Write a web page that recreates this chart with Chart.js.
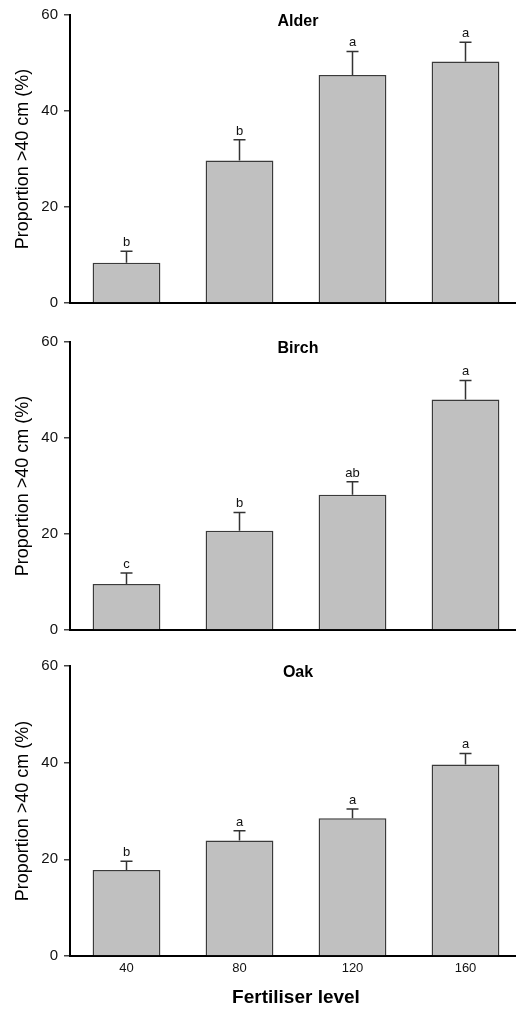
<!DOCTYPE html>
<html>
<head>
<meta charset="utf-8">
<script src="https://cdn.jsdelivr.net/npm/chart.js@4/dist/chart.umd.min.js"></script>
<style>
  html, body { margin: 0; padding: 0; background: #fff; overflow: hidden; }
  .panel { position: absolute; left: 0; width: 522px; }
</style>
</head>
<body>
<div class="panel" style="top:0px;height:318px"><canvas id="alder"></canvas></div>
<div class="panel" style="top:327px;height:318px"><canvas id="birch"></canvas></div>
<div class="panel" style="top:651px;height:358px"><canvas id="oak"></canvas></div>
<script>
// Fertiliser levels on the x axis
var levels = ["40", "80", "120", "160"];
var yTicks = [0, 20, 40, 60];

// Proportion >40 cm (%) per species, with standard errors and letters
var alderValues = [8.4, 29.7, 47.5, 50.3];
var alderErrors = [2.4, 4.3, 4.9, 4.0];
var alderLetters = ["b", "b", "a", "a"];

var birchValues = [9.6, 20.7, 28.2, 48.0];
var birchErrors = [2.3, 3.8, 2.7, 4.0];
var birchLetters = ["c", "b", "ab", "a"];

var oakValues = [17.8, 23.9, 28.5, 39.6];
var oakErrors = [1.8, 2.0, 1.9, 2.3];
var oakLetters = ["b", "a", "a", "a"];

var FONT = "'Liberation Sans', Arial, Helvetica, sans-serif";

// draws the upper error bars, the letters and the panel title
var errorBarPlugin = {
    id: "errorBars",
    afterDatasetsDraw: function(chart) {
        var opts = chart.options.plugins.errorBars;
        var meta = chart.getDatasetMeta(0);
        var yScale = chart.scales.y;
        var ctx = chart.ctx;
        ctx.save();
        ctx.strokeStyle = "#333";
        ctx.lineWidth = 1.5;
        ctx.fillStyle = "#111";
        ctx.font = "13px " + FONT;
        ctx.textAlign = "center";
        ctx.textBaseline = "alphabetic";
        meta.data.forEach(function(bar, i) {
            var yBar = yScale.getPixelForValue(opts.values[i]);
            var yTop = yScale.getPixelForValue(opts.values[i] + opts.errors[i]);
            ctx.beginPath();
            ctx.moveTo(bar.x, yBar);
            ctx.lineTo(bar.x, yTop);
            ctx.moveTo(bar.x - 6, yTop);
            ctx.lineTo(bar.x + 6, yTop);
            ctx.stroke();
            ctx.fillText(opts.letters[i], bar.x, yTop - 5);
        });
        // panel title inside the plot
        var area = chart.chartArea;
        ctx.font = "bold 16px " + FONT;
        ctx.fillStyle = "#000";
        ctx.textBaseline = "middle";
        ctx.fillText(opts.title, (area.left + area.right) / 2 + 2, area.top + 7);
        ctx.restore();
    }
};

function makePanel(id, title, values, errors, letters, bottomHeight, showX) {
    var ctx = document.getElementById(id).getContext("2d");
    return new Chart(ctx, {
        type: "bar",
        data: {
            labels: levels,
            datasets: [{
                data: values,
                backgroundColor: "#c0c0c0",
                borderColor: "#3a3a3a",
                borderWidth: 1.5,
                borderSkipped: "bottom",
                barPercentage: 0.6,
                categoryPercentage: 1.0
            }]
        },
        options: {
            responsive: true,
            maintainAspectRatio: false,
            animation: false,
            layout: { padding: { top: 14, left: 0, right: 0, bottom: 0 } },
            plugins: {
                legend: { display: false },
                tooltip: { enabled: false },
                errorBars: { title: title, values: values, errors: errors, letters: letters }
            },
            scales: {
                x: {
                    grid: { display: false, drawTicks: false },
                    border: { display: true, color: "#000", width: 2 },
                    ticks: {
                        display: showX,
                        color: "#111",
                        padding: 5,
                        font: { family: FONT, size: 13 }
                    },
                    title: {
                        display: showX,
                        text: "Fertiliser level",
                        color: "#000",
                        padding: { top: 0, bottom: 0 },
                        font: { family: FONT, size: 19, weight: "bold" }
                    },
                    afterFit: function(scale) { scale.height = bottomHeight; }
                },
                y: {
                    min: 0,
                    max: 60,
                    afterBuildTicks: function(scale) {
                        scale.ticks = yTicks.map(function(v) { return { value: v }; });
                    },
                    grid: {
                        drawOnChartArea: false,
                        drawTicks: true,
                        tickLength: 6,
                        color: "#444",
                        lineWidth: 1.5
                    },
                    border: { display: true, color: "#000", width: 2 },
                    ticks: {
                        color: "#111",
                        padding: 6,
                        font: { family: FONT, size: 15 }
                    },
                    title: {
                        display: true,
                        text: "Proportion >40 cm (%)",
                        color: "#000",
                        padding: { top: 12, bottom: 0 },
                        font: { family: FONT, size: 18 }
                    },
                    afterFit: function(scale) { scale.width = 70; }
                }
            }
        },
        plugins: [errorBarPlugin]
    });
}

makePanel("alder", "Alder", alderValues, alderErrors, alderLetters, 13, false);
makePanel("birch", "Birch", birchValues, birchErrors, birchLetters, 12, false);
makePanel("oak", "Oak", oakValues, oakErrors, oakLetters, 53, true);
</script>
</body>
</html>
